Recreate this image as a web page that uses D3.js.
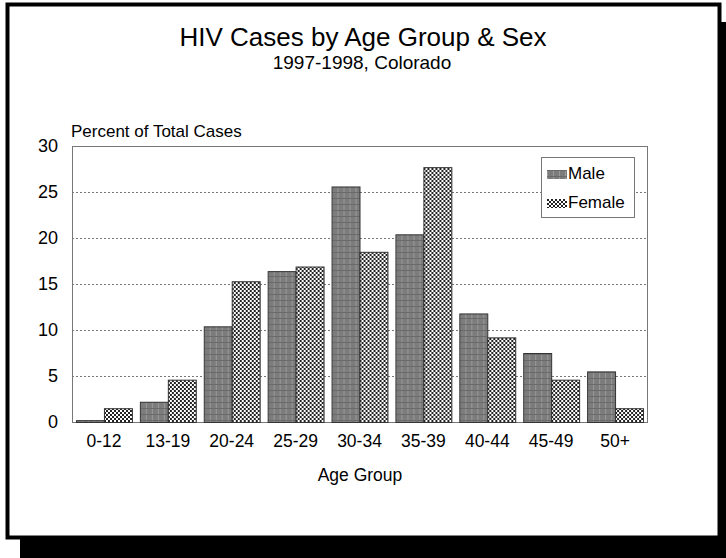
<!DOCTYPE html>
<html>
<head>
<meta charset="utf-8">
<script src="https://cdn.jsdelivr.net/npm/d3@7"></script>
<style>
  body { margin: 0; background: #fff; }
  text { font-family: "Liberation Sans", Arial, sans-serif; fill: #000; }
</style>
</head>
<body>
<div id="viz"></div>
<script>
// Chart data
const ageGroups = ["0-12", "13-19", "20-24", "25-29", "30-34", "35-39", "40-44", "45-49", "50+"];
const maleValues = [0.2, 2.2, 10.4, 16.4, 25.6, 20.4, 11.8, 7.5, 5.5];
const femaleValues = [1.5, 4.6, 15.3, 16.9, 18.5, 27.7, 9.2, 4.6, 1.5];
const seriesNames = ["Male", "Female"];
const yTicks = [0, 5, 10, 15, 20, 25, 30];

const width = 726;
const height = 558;
const plot = { left: 72, right: 647, top: 146, bottom: 422 };

const svg = d3.select("#viz")
    .append("svg")
    .attr("width", width)
    .attr("height", height);

// Patterns for the two series
const defs = svg.append("defs");
const malePat = defs.append("pattern")
    .attr("id", "male")
    .attr("patternUnits", "userSpaceOnUse")
    .attr("width", 6).attr("height", 6);
malePat.append("rect").attr("width", 6).attr("height", 6).attr("fill", "#7c7c7c");
malePat.append("rect").attr("x", 0).attr("y", 0).attr("width", 1).attr("height", 6).attr("fill", "#9a9a9a");
malePat.append("rect").attr("x", 0).attr("y", 0).attr("width", 6).attr("height", 1).attr("fill", "#6a6a6a");

const femalePat = defs.append("pattern")
    .attr("id", "female")
    .attr("patternUnits", "userSpaceOnUse")
    .attr("width", 4).attr("height", 4);
femalePat.append("rect").attr("width", 4).attr("height", 4).attr("fill", "#fff");
femalePat.append("rect").attr("x", 0).attr("y", 0).attr("width", 2).attr("height", 2).attr("fill", "#222");
femalePat.append("rect").attr("x", 2).attr("y", 2).attr("width", 2).attr("height", 2).attr("fill", "#222");

const fills = { Male: "url(#male)", Female: "url(#female)" };

// Frame with drop shadow
svg.append("rect")
    .attr("x", 20).attr("y", 22)
    .attr("width", 710).attr("height", 540)
    .attr("fill", "#000");
svg.append("rect")
    .attr("x", 7.5).attr("y", 4.5)
    .attr("width", 712).attr("height", 533)
    .attr("fill", "#fff")
    .attr("stroke", "#000")
    .attr("stroke-width", 4);

// Titles
svg.append("text")
    .attr("x", 363).attr("y", 46)
    .attr("text-anchor", "middle")
    .style("font-size", "26px")
    .text("HIV Cases by Age Group & Sex");
svg.append("text")
    .attr("x", 362).attr("y", 69)
    .attr("text-anchor", "middle")
    .style("font-size", "19px")
    .text("1997-1998, Colorado");

// Scales
const x0 = d3.scaleBand()
    .domain(ageGroups)
    .range([plot.left, plot.right])
    .paddingInner(0.125)
    .paddingOuter(0.0625);
const x1 = d3.scaleBand()
    .domain(seriesNames)
    .range([0, x0.bandwidth()]);
const y = d3.scaleLinear()
    .domain([0, 30])
    .range([plot.bottom, plot.top]);

// Gridlines
svg.append("g")
    .selectAll("line")
    .data(yTicks.filter(d => d > 0 && d < 30))
    .enter().append("line")
    .attr("x1", plot.left).attr("x2", plot.right)
    .attr("y1", d => y(d) + 0.5).attr("y2", d => y(d) + 0.5)
    .attr("stroke", "#777")
    .attr("stroke-dasharray", "2,2");

// Plot box
svg.append("rect")
    .attr("x", plot.left + 0.5).attr("y", plot.top + 0.5)
    .attr("width", plot.right - plot.left).attr("height", plot.bottom - plot.top)
    .attr("fill", "none")
    .attr("stroke", "#777");

// Bars
const rows = ageGroups.map((g, i) => ({ group: g, Male: maleValues[i], Female: femaleValues[i] }));
svg.append("g")
    .selectAll("g")
    .data(rows)
    .enter().append("g")
    .attr("transform", d => `translate(${x0(d.group)},0)`)
    .selectAll("rect")
    .data(d => seriesNames.map(s => ({ key: s, value: d[s] })))
    .enter().append("rect")
    .attr("x", d => x1(d.key) + 0.5)
    .attr("y", d => y(d.value) + 0.5)
    .attr("width", x1.bandwidth())
    .attr("height", d => y(0) - y(d.value))
    .attr("fill", d => fills[d.key])
    .attr("stroke", "#333")
    .attr("stroke-width", 1);

// Y axis
const yAxis = svg.append("g")
    .attr("transform", `translate(${plot.left},0)`)
    .call(d3.axisLeft(y).tickValues(yTicks).tickSize(0).tickPadding(14));
yAxis.select(".domain").remove();
yAxis.selectAll("text")
    .style("font-size", "18px")
    .style("font-family", "Liberation Sans, Arial, sans-serif");

// X axis
const xAxis = svg.append("g")
    .attr("transform", `translate(0,${plot.bottom})`)
    .call(d3.axisBottom(x0).tickSize(0).tickPadding(13));
xAxis.select(".domain").remove();
xAxis.selectAll("text")
    .style("font-size", "17.5px")
    .style("font-family", "Liberation Sans, Arial, sans-serif");

// Axis titles
svg.append("text")
    .attr("x", 71).attr("y", 137)
    .style("font-size", "17px")
    .text("Percent of Total Cases");
svg.append("text")
    .attr("x", 360).attr("y", 481)
    .attr("text-anchor", "middle")
    .style("font-size", "17.5px")
    .text("Age Group");

// Legend
const legend = svg.append("g");
legend.append("rect")
    .attr("x", 541.5).attr("y", 157.5)
    .attr("width", 93).attr("height", 60)
    .attr("fill", "#fff")
    .attr("stroke", "#777");
const items = legend.selectAll("g")
    .data(seriesNames)
    .enter().append("g")
    .attr("transform", (d, i) => `translate(547,${170 + i * 29})`);
items.append("rect")
    .attr("width", 20).attr("height", 9)
    .attr("fill", d => fills[d]);
items.append("text")
    .attr("x", 21).attr("y", 9)
    .style("font-size", "17px")
    .text(d => d);
</script>
</body>
</html>
